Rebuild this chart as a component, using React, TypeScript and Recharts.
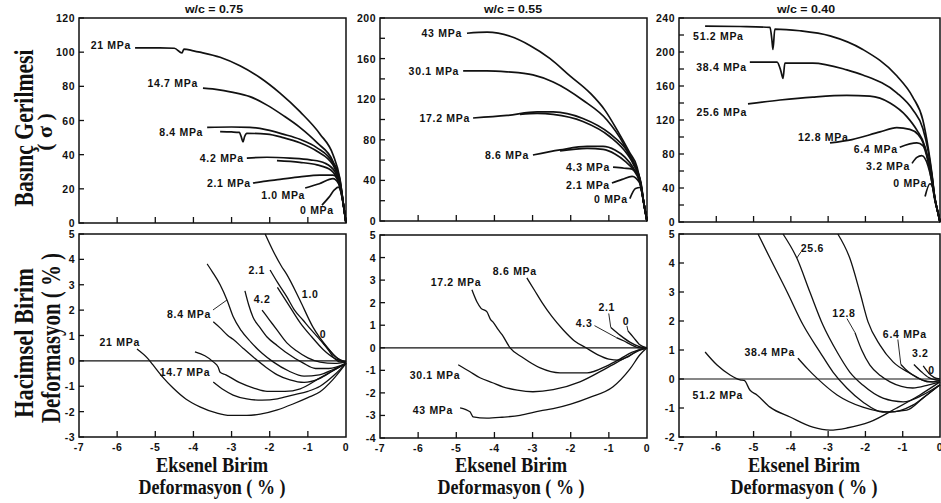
import { LineChart, Line, XAxis, YAxis, ReferenceArea, ReferenceLine } from 'recharts';

type Pt = [number, number];

// axial strain (%) vs deviator stress (MPa)
const s75_21: Pt[] = [[-5.53, 102.5], [-5.2, 102.5], [-4.88, 102.5], [-4.5, 102.3], [-4.3, 99.5], [-4.25, 101.8], [-4.0, 100.8], [-3.83, 100], [-3.3, 97], [-2.78, 92], [-2.25, 85], [-1.73, 76], [-1.2, 65], [-0.68, 52], [-0.34, 40], [-0.16, 26], [-0.05, 8], [0, 0]];
const s75_14_7: Pt[] = [[-3.75, 79], [-3.5, 78.5], [-3.2, 77.5], [-2.96, 76.5], [-2.52, 74], [-2.07, 69], [-1.65, 63], [-1.21, 56], [-0.76, 47], [-0.34, 36], [-0.15, 24], [-0.05, 8], [0, 0]];
const s75_8_4a: Pt[] = [[-3.64, 56], [-3.0, 56.2], [-2.52, 56], [-2.07, 54.5], [-1.65, 52], [-1.21, 49], [-0.76, 44], [-0.34, 35], [-0.15, 23], [-0.05, 8], [0, 0]];
const s75_8_4b: Pt[] = [[-3.3, 53.5], [-3.0, 53.3], [-2.8, 53], [-2.74, 50], [-2.7, 47.5], [-2.66, 50.5], [-2.6, 52.5], [-2.07, 52], [-1.65, 50], [-1.21, 47], [-0.76, 42], [-0.34, 34], [-0.15, 22], [-0.05, 8], [0, 0]];
const s75_4_2a: Pt[] = [[-2.6, 38], [-2.07, 38.5], [-1.47, 38], [-0.94, 37], [-0.55, 35], [-0.29, 30], [-0.15, 21], [-0.05, 8], [0, 0]];
const s75_4_2b: Pt[] = [[-1.81, 36.5], [-1.21, 35.5], [-0.76, 34], [-0.4, 31], [-0.2, 24], [-0.05, 8], [0, 0]];
const s75_2_1: Pt[] = [[-2.44, 23.4], [-2.1, 24.5], [-1.73, 25.5], [-1.21, 27], [-0.68, 28], [-0.34, 28], [-0.15, 22], [-0.05, 8], [0, 0]];
const s75_1_0: Pt[] = [[-1.07, 20.5], [-0.7, 23], [-0.34, 26], [-0.15, 21], [-0.05, 8], [0, 0]];
const s75_0: Pt[] = [[-0.63, 10.5], [-0.45, 15], [-0.3, 19.5], [-0.2, 21], [-0.12, 17], [-0.05, 8], [0, 0]];

const s55_43: Pt[] = [[-4.72, 185], [-4.19, 186], [-3.59, 182], [-3.07, 173], [-2.54, 160], [-2.02, 143], [-1.49, 126], [-1.1, 109], [-0.79, 90], [-0.45, 67], [-0.26, 53], [-0.16, 35], [-0.08, 16], [0, 0]];
const s55_30_1: Pt[] = [[-4.82, 148], [-4.2, 148], [-3.67, 147], [-2.99, 144], [-2.46, 137], [-1.68, 119], [-1.05, 99.5], [-0.63, 77], [-0.37, 57], [-0.16, 38], [-0.08, 17], [0, 0]];
const s55_17_2a: Pt[] = [[-4.56, 101.5], [-3.67, 104], [-2.88, 107.5], [-2.46, 107.5], [-1.68, 101], [-0.97, 86], [-0.52, 69], [-0.31, 55], [-0.16, 37], [-0.08, 17], [0, 0]];
const s55_17_2b: Pt[] = [[-3.33, 105], [-2.88, 106], [-2.46, 105], [-1.68, 98], [-0.97, 83], [-0.52, 66], [-0.31, 53], [-0.16, 36], [-0.08, 17], [0, 0]];
const s55_8_6a: Pt[] = [[-2.99, 65], [-2.28, 70], [-1.57, 73.5], [-1.15, 73.5], [-0.84, 70], [-0.58, 63], [-0.37, 53], [-0.18, 38], [-0.08, 17], [0, 0]];
const s55_8_6b: Pt[] = [[-2.28, 69], [-1.57, 71.5], [-1.15, 70.5], [-0.84, 66], [-0.58, 59], [-0.37, 51], [-0.18, 37], [-0.08, 17], [0, 0]];
const s55_4_3: Pt[] = [[-0.89, 53], [-0.6, 52], [-0.39, 51], [-0.2, 42], [-0.08, 17], [0, 0]];
const s55_2_1: Pt[] = [[-0.92, 37.5], [-0.65, 41], [-0.39, 44], [-0.2, 38], [-0.08, 17], [0, 0]];
const s55_0: Pt[] = [[-0.45, 22], [-0.3, 32], [-0.18, 33], [-0.08, 17], [0, 0]];

const s40_51_2: Pt[] = [[-6.3, 230.5], [-5.36, 230], [-4.56, 229], [-4.51, 215], [-4.48, 203], [-4.43, 227], [-3.76, 225], [-2.95, 219], [-2.07, 203], [-1.16, 172], [-0.73, 147], [-0.46, 120], [-0.32, 88], [-0.22, 58], [-0.14, 29], [-0.05, 10], [0, 0]];
const s40_38_4: Pt[] = [[-5.1, 188], [-4.37, 188], [-4.27, 178], [-4.21, 169], [-4.16, 187], [-3.41, 187], [-2.5, 179], [-2.07, 173], [-1.16, 152], [-0.73, 132], [-0.46, 110], [-0.32, 84], [-0.22, 56], [-0.14, 28], [-0.05, 10], [0, 0]];
const s40_25_6: Pt[] = [[-5.15, 139], [-4.29, 143.5], [-3.41, 147], [-2.5, 149], [-1.88, 148], [-1.34, 140], [-0.89, 124], [-0.62, 108], [-0.4, 88], [-0.27, 60], [-0.16, 32], [-0.05, 10], [0, 0]];
const s40_12_8: Pt[] = [[-2.95, 93], [-2.36, 97], [-1.61, 106], [-1.16, 111], [-0.81, 109], [-0.59, 103], [-0.46, 94], [-0.32, 75], [-0.22, 55], [-0.14, 28], [-0.05, 10], [0, 0]];
const s40_6_4: Pt[] = [[-1.08, 88], [-0.62, 93], [-0.46, 90], [-0.32, 72], [-0.22, 52], [-0.14, 28], [-0.05, 10], [0, 0]];
const s40_3_2: Pt[] = [[-0.75, 69], [-0.62, 76], [-0.49, 78], [-0.32, 66], [-0.22, 48], [-0.14, 26], [-0.05, 10], [0, 0]];
const s40_0: Pt[] = [[-0.4, 30], [-0.27, 45], [-0.19, 40], [-0.11, 22], [-0.03, 6], [0, 0]];

// axial strain (%) vs volumetric strain (%)
const v75_21: Pt[] = [[-5.48, 0.47], [-5.2, 0.1], [-5.06, -0.16], [-4.8, -0.65], [-4.54, -1.06], [-4.2, -1.5], [-3.83, -1.81], [-3.4, -2.05], [-3.04, -2.15], [-2.6, -2.15], [-2.25, -2.1], [-1.8, -1.93], [-1.39, -1.7], [-1.0, -1.45], [-0.68, -1.22], [-0.35, -0.75], [0, -0.1]];
const v75_14_7a: Pt[] = [[-3.96, 0.35], [-3.7, 0.2], [-3.48, -0.04], [-3.35, -0.25], [-3.3, -0.45], [-3.15, -0.55], [-2.8, -0.85], [-2.4, -1.08], [-2.07, -1.2], [-1.6, -1.2], [-1.2, -1.1], [-0.68, -0.67], [-0.3, -0.35], [0, -0.1]];
const v75_14_7b: Pt[] = [[-3.48, -0.83], [-3.2, -1.15], [-2.96, -1.35], [-2.6, -1.5], [-2.2, -1.55], [-1.8, -1.5], [-1.4, -1.35], [-1.0, -1.2], [-0.68, -1.0], [-0.3, -0.55], [0, -0.1]];
const v75_8_4a: Pt[] = [[-3.64, 3.82], [-3.5, 3.5], [-3.3, 3.0], [-3.12, 2.4], [-2.96, 1.75], [-2.75, 1.2], [-2.5, 0.75], [-2.2, 0.3], [-1.9, -0.05], [-1.5, -0.4], [-1.1, -0.6], [-0.7, -0.55], [-0.35, -0.35], [0, -0.1]];
const v75_8_4b: Pt[] = [[-3.48, 1.54], [-3.3, 1.3], [-3.1, 1.0], [-2.96, 0.85], [-2.7, 0.5], [-2.44, 0.16], [-2.1, -0.25], [-1.8, -0.55], [-1.47, -0.75], [-1.1, -0.85], [-0.7, -0.7], [-0.35, -0.4], [0, -0.1]];
const v75_4_2a: Pt[] = [[-2.65, 2.76], [-2.55, 2.2], [-2.44, 1.73], [-2.25, 1.3], [-2.07, 0.94], [-1.8, 0.6], [-1.55, 0.31], [-1.13, -0.08], [-0.8, -0.3], [-0.45, -0.3], [0, -0.1]];
const v75_4_2b: Pt[] = [[-2.2, 2.0], [-2.0, 1.6], [-1.81, 1.22], [-1.55, 0.71], [-1.3, 0.4], [-1.0, 0.12], [-0.68, -0.05], [-0.3, -0.1], [0, -0.05]];
const v75_2_1: Pt[] = [[-1.99, 3.58], [-1.8, 3.1], [-1.55, 2.52], [-1.35, 2.0], [-1.13, 1.61], [-0.9, 1.2], [-0.68, 0.83], [-0.45, 0.4], [-0.34, 0.16], [-0.16, -0.04], [0, -0.05]];
const v75_1_0b: Pt[] = [[-1.8, 2.9], [-1.5, 2.2], [-1.2, 1.5], [-0.9, 0.95], [-0.6, 0.45], [-0.3, 0.1], [0, -0.05]];
const v75_1_0: Pt[] = [[-2.12, 5.0], [-1.9, 4.3], [-1.7, 3.75], [-1.55, 3.4], [-1.21, 2.4], [-0.87, 1.34], [-0.5, 0.55], [-0.24, 0.12], [0, -0.05]];
const v75_0: Pt[] = [[-0.6, 0.7], [-0.45, 0.45], [-0.3, 0.2], [-0.15, 0.02], [0, -0.05]];

const v55_17_2: Pt[] = [[-4.59, 2.57], [-4.46, 2.04], [-4.35, 1.75], [-4.2, 1.6], [-4.1, 1.25], [-4.04, 1.15], [-3.9, 0.8], [-3.8, 0.58], [-3.59, 0], [-3.25, -0.44], [-2.8, -0.89], [-2.28, -1.11], [-1.57, -1.11], [-1.05, -0.8], [-0.71, -0.5], [-0.4, -0.2], [0, 0]];
const v55_8_6: Pt[] = [[-3.15, 3.1], [-2.95, 2.55], [-2.75, 2.0], [-2.5, 1.4], [-2.2, 0.8], [-1.9, 0.3], [-1.6, 0], [-1.3, -0.3], [-1.0, -0.5], [-0.75, -0.55], [-0.5, -0.4], [-0.25, -0.12], [0, 0]];
const v55_30_1: Pt[] = [[-4.95, -0.75], [-4.65, -1.05], [-4.38, -1.33], [-4.05, -1.55], [-3.78, -1.73], [-3.4, -1.88], [-2.99, -1.95], [-2.46, -1.86], [-1.76, -1.51], [-1.05, -0.89], [-0.52, -0.4], [-0.2, -0.12], [0, 0]];
const v55_43: Pt[] = [[-4.9, -2.66], [-4.64, -2.84], [-4.56, -3.06], [-4.2, -3.12], [-3.8, -3.08], [-3.33, -3.0], [-2.8, -2.8], [-2.46, -2.7], [-2.0, -2.5], [-1.5, -2.2], [-0.89, -1.73], [-0.45, -0.95], [-0.18, -0.3], [0, 0]];
const v55_4_3: Pt[] = [[-0.8, 0.45], [-0.6, 0.3], [-0.4, 0.12], [-0.2, 0], [0, 0]];
const v55_2_1: Pt[] = [[-0.95, 0.9], [-0.7, 0.55], [-0.45, 0.25], [-0.2, 0.05], [0, 0]];
const v55_0: Pt[] = [[-0.5, 0.75], [-0.35, 0.45], [-0.2, 0.15], [0, 0]];

const v40_51_2: Pt[] = [[-6.3, 0.93], [-5.98, 0.48], [-5.63, 0.14], [-5.36, -0.03], [-5.25, -0.05], [-5.1, -0.38], [-4.91, -0.55], [-4.56, -0.97], [-4.02, -1.31], [-3.41, -1.66], [-2.95, -1.76], [-2.5, -1.69], [-1.88, -1.48], [-1.16, -1.0], [-0.54, -0.55], [0, -0.1]];
const v40_38_4a: Pt[] = [[-4.88, 5.0], [-4.56, 4.17], [-4.1, 3.0], [-3.67, 1.86], [-3.22, 0.93], [-2.87, 0.24], [-2.5, -0.31], [-2.07, -0.79], [-1.53, -1.14], [-0.89, -1.07], [-0.46, -0.66], [0, -0.2]];
const v40_38_4b: Pt[] = [[-3.81, 0.72], [-3.55, 0.35], [-3.3, 0.03], [-2.76, -0.55], [-2.07, -0.97], [-1.34, -1.14], [-0.73, -0.9], [-0.35, -0.55], [0, -0.2]];
const v40_25_6: Pt[] = [[-4.21, 5.0], [-3.84, 4.17], [-3.49, 3.0], [-3.14, 1.86], [-2.76, 0.93], [-2.42, 0.24], [-2.07, -0.21], [-1.53, -0.66], [-0.99, -0.79], [-0.46, -0.55], [0, -0.2]];
const v40_12_8a: Pt[] = [[-2.28, 1.6], [-2.1, 1.0], [-1.88, 0.48], [-1.6, 0.12], [-1.34, -0.1], [-0.73, -0.31], [-0.3, -0.2], [0, -0.1]];
const v40_12_8b: Pt[] = [[-2.74, 5.0], [-2.42, 4.17], [-2.15, 3.0], [-1.93, 1.97], [-1.61, 1.17], [-1.26, 0.59], [-0.81, 0.2], [-0.45, -0.05], [-0.2, -0.1], [0, -0.05]];
const v40_6_4: Pt[] = [[-1.05, 0.5], [-0.85, 0.25], [-0.6, 0.05], [-0.3, -0.1], [0, -0.1]];
const v40_3_2: Pt[] = [[-0.7, 0.5], [-0.5, 0.25], [-0.3, 0.05], [0, -0.05]];
const v40_0: Pt[] = [[-0.45, 0.45], [-0.3, 0.2], [-0.15, 0.05], [0, 0]];

const xTicks = [-7, -6, -5, -4, -3, -2, -1, 0];
const yTicks75 = [0, 20, 40, 60, 80, 100, 120];
const yTicks55 = [0, 20, 40, 60, 80, 100, 120, 140, 160, 180, 200];
const yTicks40 = [0, 20, 40, 60, 80, 100, 120, 140, 160, 180, 200, 220, 240];
const vTicks75 = [-3, -2, -1, 0, 1, 2, 3, 4, 5];
const vTicks55 = [-4, -3, -2, -1, 0, 1, 2, 3, 4, 5];
const vTicks40 = [-2, -1, 0, 1, 2, 3, 4, 5];

interface Curve {
  pts: Pt[];
  tag?: string;
  at?: number;
  dx?: number;
  dy?: number;
  anchor?: 'start' | 'middle' | 'end';
  lead?: [number, number];
}

const sans = '"Liberation Sans", Arial, sans-serif';
const serif = '"Liberation Serif", "Times New Roman", serif';
const tickStyle = { fontFamily: sans, fontWeight: 700, fontSize: 10.5, fill: '#111', letterSpacing: 0.5 };
const tagStyle = { fontFamily: sans, fontWeight: 700, fontSize: 10.5, fill: '#111', letterSpacing: 0.7 };

const XTick = (p: any) => {
  const v = p.payload.value;
  return (
    <g>
      {v > -7 && v < 0 && <line x1={p.x} y1={p.y} x2={p.x} y2={p.y - 6} stroke="#111" strokeWidth={1.3} />}
      {p.labels && (
        <text x={p.x} y={p.y + 14} textAnchor="middle" style={tickStyle}>
          {v}
        </text>
      )}
    </g>
  );
};

const YTick = (p: any) => {
  const v = p.payload.value;
  const show = Math.abs(v % p.step) < 1e-9;
  return (
    <g>
      <line x1={p.x} y1={p.y} x2={p.x + 5} y2={p.y} stroke="#111" strokeWidth={1.3} />
      {show && (
        <text x={p.x - 4} y={p.y} textAnchor="end" dominantBaseline="central" style={tickStyle}>
          {v}
        </text>
      )}
    </g>
  );
};

// curve name written next to one of its points
const tagDot = (c: Curve) => (p: any) => {
  if (!c.tag || p.index !== (c.at ?? 0)) return <g key={p.index} />;
  const tx = p.cx + (c.dx ?? 0);
  const ty = p.cy + (c.dy ?? 0);
  return (
    <g key={p.index}>
      {c.lead && <line x1={p.cx + c.lead[0]} y1={p.cy + c.lead[1]} x2={p.cx} y2={p.cy} stroke="#111" strokeWidth={0.9} />}
      <text x={tx} y={ty} textAnchor={c.anchor ?? 'end'} dominantBaseline="central" style={tagStyle}>
        {c.tag}
      </text>
    </g>
  );
};

const YW = 40;
const PAD = 8;

interface PanelProps {
  left: number;
  top: number;
  w: number;
  h: number;
  yDomain: [number, number];
  yTicks: number[];
  yStep: number;
  curves: Curve[];
  xLabels?: boolean;
  zero?: boolean;
  lw: number;
}

function Panel({ left, top, w, h, yDomain, yTicks, yStep, curves, xLabels = false, zero = false, lw }: PanelProps) {
  const xh = xLabels ? 20 : PAD;
  return (
    <div style={{ position: 'absolute', left: left - YW, top: top - PAD }}>
      <LineChart width={YW + w + PAD} height={h + PAD + xh} margin={{ top: PAD, right: PAD, left: 0, bottom: 0 }}>
        <XAxis
          type="number"
          dataKey="x"
          domain={[-7, 0]}
          ticks={xTicks}
          interval={0}
          height={xh}
          axisLine={false}
          tickLine={false}
          tickSize={0}
          tickMargin={0}
          tick={<XTick labels={xLabels} />}
        />
        <YAxis
          type="number"
          dataKey="y"
          domain={yDomain}
          ticks={yTicks}
          interval={0}
          width={YW}
          axisLine={false}
          tickLine={false}
          tickSize={0}
          tickMargin={0}
          tick={<YTick step={yStep} />}
        />
        <ReferenceArea x1={-7} x2={0} y1={yDomain[0]} y2={yDomain[1]} fill="none" fillOpacity={0} stroke="#111" strokeWidth={1.5} />
        {zero && <ReferenceLine y={0} stroke="#111" strokeWidth={1.2} />}
        {curves.map((c, i) => (
          <Line
            key={i}
            data={c.pts.map(([x, y]) => ({ x, y }))}
            dataKey="y"
            type="monotone"
            stroke="#111"
            strokeWidth={lw}
            dot={tagDot(c)}
            activeDot={false}
            isAnimationActive={false}
          />
        ))}
      </LineChart>
    </div>
  );
}

const top75: Curve[] = [
  { pts: s75_21, tag: '21 MPa', dx: -4, dy: -3 },
  { pts: s75_14_7, tag: '14.7 MPa', dx: -5, dy: -5 },
  { pts: s75_8_4a, tag: '8.4 MPa', dx: -4, dy: 5 },
  { pts: s75_8_4b },
  { pts: s75_4_2a, tag: '4.2 MPa', dx: -3 },
  { pts: s75_4_2b },
  { pts: s75_2_1, tag: '2.1 MPa', dx: -2 },
  { pts: s75_1_0, tag: '1.0 MPa', dx: 0, dy: 7 },
  { pts: s75_0, tag: '0 MPa', anchor: 'start', dx: -22, dy: 5 },
];

const top55: Curve[] = [
  { pts: s55_43, tag: '43 MPa', dx: -5 },
  { pts: s55_30_1, tag: '30.1 MPa', dx: -4 },
  { pts: s55_17_2a, tag: '17.2 MPa', dx: -3 },
  { pts: s55_17_2b },
  { pts: s55_8_6a, tag: '8.6 MPa', dx: -4 },
  { pts: s55_8_6b },
  { pts: s55_4_3, tag: '4.3 MPa', dx: -3 },
  { pts: s55_2_1, tag: '2.1 MPa', dx: -2, dy: 2 },
  { pts: s55_0, tag: '0 MPa', dx: -2 },
];

const top40: Curve[] = [
  { pts: s40_51_2, tag: '51.2 MPa', anchor: 'start', dx: -12, dy: 10 },
  { pts: s40_38_4, tag: '38.4 MPa', dx: -3, dy: 5 },
  { pts: s40_25_6, tag: '25.6 MPa', dx: -1, dy: 8 },
  { pts: s40_12_8, tag: '12.8 MPa', anchor: 'start', dx: -32, dy: -6 },
  { pts: s40_6_4, tag: '6.4 MPa', dx: -2, dy: 2 },
  { pts: s40_3_2, tag: '3.2 MPa', dx: -2, dy: 3 },
  { pts: s40_0, tag: '0 MPa', dx: 2, dy: -14 },
];

const bot75: Curve[] = [
  { pts: v75_21, tag: '21 MPa', dx: 3, dy: -7 },
  { pts: v75_14_7a },
  { pts: v75_14_7b, tag: '14.7 MPa', dx: -3, dy: -10 },
  { pts: v75_8_4a, tag: '8.4 MPa', at: 3, dx: -16, dy: 14, lead: [-14, 10] },
  { pts: v75_8_4b },
  { pts: v75_4_2a },
  { pts: v75_4_2b, tag: '4.2', anchor: 'middle', dx: 0, dy: -11 },
  { pts: v75_2_1, tag: '2.1', dx: -5 },
  { pts: v75_1_0b },
  { pts: v75_1_0, tag: '1.0', at: 4, anchor: 'start', dx: 2, dy: -6 },
  { pts: v75_0, tag: '0', anchor: 'middle', dx: 0, dy: -9 },
];

const bot55: Curve[] = [
  { pts: v55_17_2, tag: '17.2 MPa', anchor: 'middle', dx: -16, dy: -8 },
  { pts: v55_8_6, tag: '8.6 MPa', anchor: 'middle', dx: -12, dy: -7 },
  { pts: v55_30_1, tag: '30.1 MPa', dx: 2, dy: 10 },
  { pts: v55_43, tag: '43 MPa', dx: -7, dy: 2 },
  { pts: v55_4_3, tag: '4.3', dx: -24, dy: -15, lead: [-22, -12] },
  { pts: v55_2_1, tag: '2.1', anchor: 'middle', dx: -4, dy: -20, lead: [-2, -14] },
  { pts: v55_0, tag: '0', anchor: 'middle', dx: -2, dy: -10, lead: [-1, -5] },
];

const bot40: Curve[] = [
  { pts: v40_51_2, tag: '51.2 MPa', at: 3, dx: 3, dy: 15 },
  { pts: v40_38_4a },
  { pts: v40_38_4b, tag: '38.4 MPa', dx: -3, dy: -6 },
  { pts: v40_25_6, tag: '25.6', at: 1, anchor: 'start', dx: 4, dy: -10, lead: [4, -6] },
  { pts: v40_12_8a, tag: '12.8', anchor: 'middle', dx: -11, dy: -20, lead: [-8, -14] },
  { pts: v40_12_8b },
  { pts: v40_6_4, tag: '6.4 MPa', anchor: 'start', dx: -18, dy: -31, lead: [-3, -25] },
  { pts: v40_3_2, tag: '3.2', anchor: 'start', dx: -2, dy: -12 },
  { pts: v40_0, tag: '0', anchor: 'start', dx: 5, dy: 4 },
];

export default function App() {
  const cols = [214, 513, 806];
  return (
    <div style={{ position: 'absolute', left: 0, top: 0, width: 941, height: 503, background: '#fff', overflow: 'hidden' }}>
      <Panel left={79} top={18} w={267} h={205} yDomain={[0, 120]} yTicks={yTicks75} yStep={20} curves={top75} lw={1.7} />
      <Panel left={380} top={18} w={267} h={203} yDomain={[0, 200]} yTicks={yTicks55} yStep={40} curves={top55} lw={1.7} />
      <Panel left={679} top={18} w={261} h={204} yDomain={[0, 240]} yTicks={yTicks40} yStep={40} curves={top40} lw={1.7} />
      <Panel left={79} top={234} w={267} h={203} yDomain={[-3, 5]} yTicks={vTicks75} yStep={1} curves={bot75} xLabels zero lw={1.3} />
      <Panel left={380} top={235} w={267} h={203} yDomain={[-4, 5]} yTicks={vTicks55} yStep={1} curves={bot55} xLabels zero lw={1.3} />
      <Panel left={679} top={234} w={261} h={203} yDomain={[-2, 5]} yTicks={vTicks40} yStep={1} curves={bot40} xLabels zero lw={1.3} />
      <svg width={941} height={503} style={{ position: 'absolute', left: 0, top: 0, pointerEvents: 'none' }}>
        {['w/c = 0.75', 'w/c = 0.55', 'w/c = 0.40'].map((t, i) => (
          <text key={t} x={cols[i]} y={13} textAnchor="middle" textLength={58} lengthAdjust="spacingAndGlyphs" style={{ fontFamily: sans, fontWeight: 700, fontSize: 10, fill: '#111' }}>
            {t}
          </text>
        ))}
        {cols.map((cx) => (
          <g key={cx} style={{ fontFamily: serif, fontWeight: 700, fontSize: 20, fill: '#111' }}>
            <text x={cx - 2} y={472} textAnchor="middle" textLength={112} lengthAdjust="spacingAndGlyphs">
              Eksenel Birim
            </text>
            <text x={cx - 2} y={494} textAnchor="middle" textLength={147} lengthAdjust="spacingAndGlyphs">
              Deformasyon ( % )
            </text>
          </g>
        ))}
        <g style={{ fontFamily: serif, fontWeight: 700, fill: '#111' }}>
          <text transform="translate(33,128) rotate(-90)" textAnchor="middle" fontSize={28} textLength={157} lengthAdjust="spacingAndGlyphs">
            Basınç Gerilmesi
          </text>
          <text transform="translate(52,132) rotate(-90)" textAnchor="middle" fontSize={22}>
            ( σ )
          </text>
          <text transform="translate(33,343) rotate(-90)" textAnchor="middle" fontSize={28} textLength={150} lengthAdjust="spacingAndGlyphs">
            Hacimsel Birim
          </text>
          <text transform="translate(60,338) rotate(-90)" textAnchor="middle" fontSize={27} textLength={170} lengthAdjust="spacingAndGlyphs">
            Deformasyon ( % )
          </text>
        </g>
      </svg>
    </div>
  );
}
